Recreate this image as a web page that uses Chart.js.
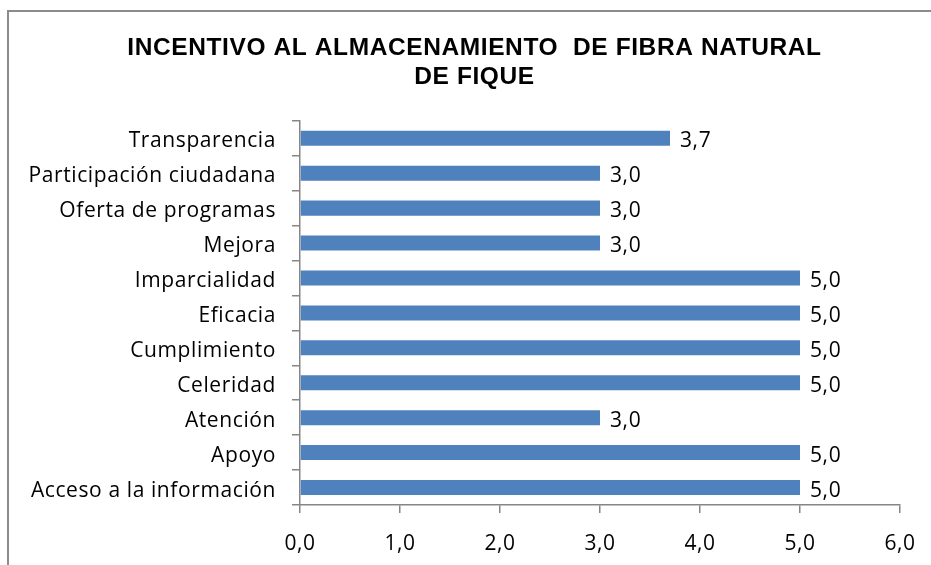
<!DOCTYPE html>
<html>
<head>
<meta charset="utf-8">
<script src="https://cdn.jsdelivr.net/npm/chart.js@4"></script>
<style>
  html, body { margin: 0; padding: 0; background: #fff; overflow: hidden; width: 931px; height: 565px; }
  #frame { position: absolute; left: 7px; top: 10px; width: 1000px; height: 600px;
           border-top: 2px solid #8c8c8c; border-left: 2px solid #8c8c8c; }
  #chartBox { position: absolute; left: 0; top: 0; }
</style>
</head>
<body>
<div id="frame"></div>
<div id="chartBox"><canvas id="barChart" width="949" height="565"></canvas></div>
<script>
// valores
const categorias = ['Transparencia', 'Participación ciudadana', 'Oferta de programas', 'Mejora',
                    'Imparcialidad', 'Eficacia', 'Cumplimiento', 'Celeridad', 'Atención',
                    'Apoyo', 'Acceso a la información'];
const valores = [3.7, 3.0, 3.0, 3.0, 5.0, 5.0, 5.0, 5.0, 3.0, 5.0, 5.0];
const tituloLineas = ['INCENTIVO AL ALMACENAMIENTO  DE FIBRA NATURAL', 'DE FIQUE'];
const ejeMin = 0, ejeMax = 6, paso = 1;

const fuente = "'Open Sans', 'Noto Sans', sans-serif";
const gris = '#868686';

function coma(v) {
    return Number(v).toFixed(1).replace('.', ',');
}

// espaciado de letras tipo Excel
const espaciado = {
    id: 'espaciado',
    beforeLayout(chart) { chart.ctx.letterSpacing = '0.6px'; },
    beforeDraw(chart) { chart.ctx.letterSpacing = '0.6px'; }
};

// etiquetas de valor al final de cada barra
const etiquetasValor = {
    id: 'etiquetasValor',
    afterDatasetsDraw(chart) {
        const c = chart.ctx;
        const meta = chart.getDatasetMeta(0);
        c.save();
        c.font = '21px ' + fuente;
        c.fillStyle = '#000';
        c.textAlign = 'left';
        c.textBaseline = 'middle';
        meta.data.forEach((bar, i) => {
            c.fillText(coma(valores[i]), bar.x + 10, bar.y + 3);
        });
        c.restore();
    }
};

let chart = null;

function drawChart() {
    const ctx = document.getElementById('barChart').getContext('2d');
    chart = new Chart(ctx, {
        type: 'bar',
        data: {
            labels: categorias,
            datasets: [{
                data: valores,
                backgroundColor: '#4F81BD',
                borderWidth: 0,
                categoryPercentage: 1.0,
                barPercentage: 0.43
            }]
        },
        options: {
            indexAxis: 'y',
            responsive: false,
            devicePixelRatio: 1,
            animation: false,
            layout: { padding: 0 },
            plugins: {
                legend: { display: false },
                tooltip: { enabled: false },
                title: {
                    display: true,
                    text: tituloLineas,
                    color: '#000',
                    font: { family: "'Liberation Sans', Arial, sans-serif", size: 24.5, weight: 'bold', lineHeight: 1.18 },
                    padding: { top: 34, bottom: 29 }
                }
            },
            scales: {
                x: {
                    min: ejeMin,
                    max: ejeMax,
                    ticks: {
                        stepSize: paso,
                        color: '#000',
                        font: { family: fuente, size: 21 },
                        padding: 18,
                        callback: v => coma(v)
                    },
                    grid: { drawOnChartArea: false, tickLength: 8, color: gris, lineWidth: 1.5 },
                    border: { color: gris, width: 1.5 },
                    afterFit(scale) { scale.height = 60; }
                },
                y: {
                    offset: true,
                    ticks: {
                        color: '#000',
                        font: { family: fuente, size: 21 },
                        padding: 16,
                        labelOffset: 3
                    },
                    grid: { offset: true, drawOnChartArea: false, tickLength: 8, color: gris, lineWidth: 1.5 },
                    border: { color: gris, width: 1.5 },
                    afterFit(scale) { scale.width = 300; }
                },
                // margen derecho vacio para dejar el area util en 300..900
                margenDer: {
                    axis: 'y',
                    type: 'linear',
                    position: 'right',
                    ticks: { display: false },
                    grid: { display: false },
                    border: { display: false },
                    afterFit(scale) { scale.width = 49; }
                }
            }
        },
        plugins: [espaciado, etiquetasValor]
    });
}

drawChart();
</script>
</body>
</html>
